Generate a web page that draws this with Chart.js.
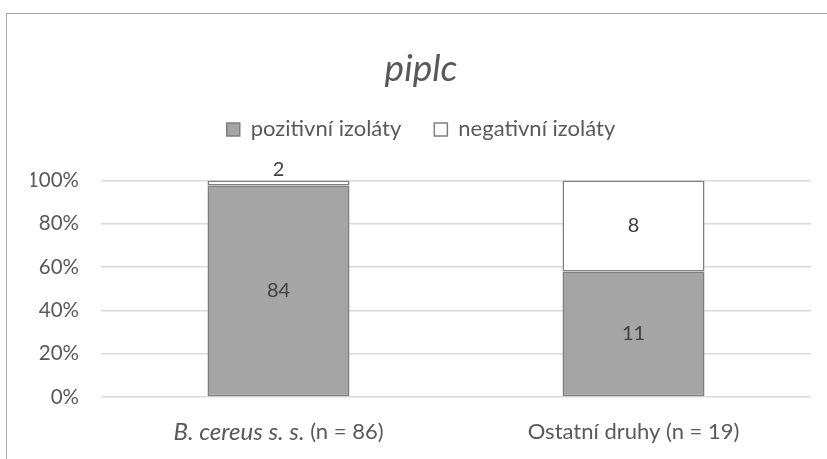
<!DOCTYPE html>
<html lang="cs">
<head>
    <meta charset="UTF-8">
    <title>piplc</title>
    <script src="https://cdn.jsdelivr.net/npm/chart.js"></script>
    <style>
        body {
            margin: 0;
            background: #fff;
            overflow: hidden;
        }
        .ramecek {
            position: absolute;
            left: 6px;
            top: 13px;
            width: 900px;
            height: 500px;
            border: 1px solid #a6a6a6;
        }
        #graf {
            position: absolute;
            left: 0;
            top: 0;
        }
    </style>
</head>
<body>
    <div class="ramecek"></div>
    <canvas id="graf" width="827" height="459"></canvas>

    <script>
        // data z obrázku
        const kategorie = ['B. cereus s. s. (n = 86)', 'Ostatní druhy (n = 19)'];
        const kurziva = ['B. cereus s. s.', ''];
        const pozitivni = [84, 11];
        const negativni = [2, 8];
        const osaY = [0, 20, 40, 60, 80, 100];

        const PISMO = 'Lato, "Open Sans", sans-serif';
        const SEDA_TEXT = '#595959';
        const VLEVO = 31;   // odsazení, aby nadpis seděl na střed rámečku

        const celkem = pozitivni.map((p, i) => p + negativni[i]);
        const procPoz = pozitivni.map((p, i) => p / celkem[i] * 100);
        const procNeg = negativni.map((n, i) => n / celkem[i] * 100);
        const pocty = [pozitivni, negativni];

        // popisky s počty v segmentech
        const popiskyPlugin = {
            id: 'popisky',
            afterDatasetsDraw(chart) {
                const ctx = chart.ctx;
                ctx.save();
                ctx.font = '20px ' + PISMO;
                ctx.fillStyle = '#404040';
                ctx.textAlign = 'center';
                ctx.textBaseline = 'middle';
                chart.data.datasets.forEach((ds, d) => {
                    chart.getDatasetMeta(d).data.forEach((el, i) => {
                        const { x, y, base } = el.getProps(['x', 'y', 'base'], true);
                        const h = Math.abs(base - y);
                        const ty = h < 20 ? Math.min(y, base) - 11 : (y + base) / 2;
                        ctx.fillText(String(pocty[d][i]), x, ty);
                    });
                });
                ctx.restore();
            }
        };

        // popisky kategorií s kurzívou
        const osaXPlugin = {
            id: 'osaX',
            afterDraw(chart) {
                const ctx = chart.ctx;
                const sx = chart.scales.x;
                ctx.save();
                ctx.fillStyle = SEDA_TEXT;
                ctx.textBaseline = 'middle';
                ctx.textAlign = 'left';
                kategorie.forEach((txt, i) => {
                    const cast1 = kurziva[i];
                    const cast2 = txt.slice(cast1.length);
                    ctx.font = 'italic 24px ' + PISMO;
                    const w1 = ctx.measureText(cast1).width;
                    ctx.font = '22px ' + PISMO;
                    const w2 = ctx.measureText(cast2).width;
                    let x = sx.getPixelForValue(i) - (w1 + w2) / 2;
                    const y = 432;
                    if (cast1) {
                        ctx.font = 'italic 24px ' + PISMO;
                        ctx.fillText(cast1, x, y);
                        x += w1;
                    }
                    ctx.font = '22px ' + PISMO;
                    ctx.fillText(cast2, x, y);
                });
                ctx.restore();
            }
        };

        // víc místa pod legendou
        const legendaPlugin = {
            id: 'legendaOkraj',
            beforeUpdate(chart) {
                const leg = chart.legend;
                if (leg && !leg._upraveno) {
                    const puvodni = leg.fit;
                    leg.fit = function () {
                        puvodni.call(this);
                        this.height += 30;
                    };
                    leg._upraveno = true;
                }
            }
        };

        new Chart(document.getElementById('graf'), {
            type: 'bar',
            data: {
                labels: kategorie,
                datasets: [
                    {
                        label: 'pozitivní izoláty',
                        data: procPoz,
                        backgroundColor: '#a5a5a5',
                        borderColor: '#7f7f7f',
                        borderWidth: 1.5,
                        borderSkipped: false,
                        barPercentage: 0.5,
                        categoryPercentage: 0.8
                    },
                    {
                        label: 'negativní izoláty',
                        data: procNeg,
                        backgroundColor: '#ffffff',
                        borderColor: '#7f7f7f',
                        borderWidth: 1.5,
                        borderSkipped: false,
                        barPercentage: 0.5,
                        categoryPercentage: 0.8
                    }
                ]
            },
            options: {
                responsive: false,
                animation: false,
                layout: { padding: { left: VLEVO, right: 16, top: 0, bottom: 0 } },
                plugins: {
                    title: {
                        display: true,
                        text: 'piplc',
                        color: SEDA_TEXT,
                        font: { family: PISMO, size: 37, style: 'italic', weight: 'normal' },
                        padding: { top: 47, bottom: -6 }
                    },
                    legend: {
                        labels: {
                            color: SEDA_TEXT,
                            font: { family: PISMO, size: 22 },
                            boxWidth: 13,
                            boxHeight: 13,
                            padding: 33
                        }
                    },
                    tooltip: { enabled: false }
                },
                scales: {
                    x: {
                        stacked: true,
                        grid: { display: false },
                        border: { display: false },
                        ticks: { color: 'rgba(0,0,0,0)', font: { family: PISMO, size: 22 } },
                        afterFit(s) { s.height = 62; }
                    },
                    y: {
                        stacked: true,
                        min: 0,
                        max: 100,
                        afterBuildTicks(s) { s.ticks = osaY.map(v => ({ value: v })); },
                        ticks: {
                            color: SEDA_TEXT,
                            font: { family: PISMO, size: 20.5 },
                            padding: 22,
                            callback: v => v + '%'
                        },
                        grid: { color: '#d9d9d9', lineWidth: 1.5, drawTicks: false },
                        border: { display: false },
                        afterFit(s) { s.width = 101 - VLEVO; }
                    }
                }
            },
            plugins: [popiskyPlugin, osaXPlugin, legendaPlugin]
        });
    </script>
</body>
</html>
